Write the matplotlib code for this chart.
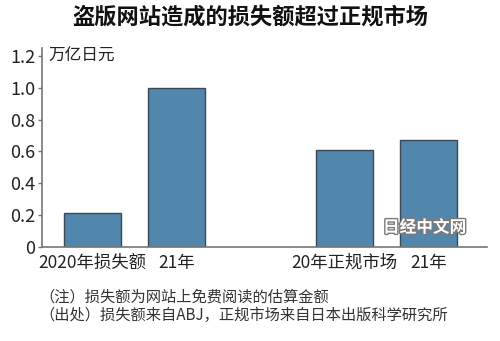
import matplotlib.pyplot as plt
import matplotlib.patheffects as pe

plt.rcParams['font.family'] = ['Noto Sans CJK SC', 'DejaVu Sans']

# 盗版损失额与正规市场规模（万亿日元）
labels = ['2020年损失额', '21年', '20年正规市场', '21年']
positions = [0, 1, 3, 4]
values = [0.21, 1.0, 0.61, 0.67]
yticks = [0, 0.2, 0.4, 0.6, 0.8, 1.0, 1.2]
ytick_labels = ['0', '0.2', '0.4', '0.6', '0.8', '1.0', '1.2']

fig = plt.figure(figsize=(5, 3.41), dpi=100)
ax = fig.add_axes([0.084, 0.276, 0.89, 0.583])

ax.bar(positions, values, width=0.68, color='#5287ad',
       edgecolor='#3b4856', linewidth=1.0)

ax.set_xlim(-0.6, 4.7)
ax.set_ylim(0, 1.25)
ax.set_yticks(yticks)
ax.set_yticklabels(ytick_labels, fontsize=13, color='#222222')
ax.set_xticks(positions)
ax.set_xticklabels(labels, fontsize=12.5, color='#222222')
ax.tick_params(axis='x', length=0, pad=5)
ax.tick_params(axis='y', length=3, width=1, color='#777777', pad=2)

for side in ['top', 'right']:
    ax.spines[side].set_visible(False)
for side in ['left', 'bottom']:
    ax.spines[side].set_color('#777777')
    ax.spines[side].set_linewidth(1.2)

ax.text(0.014, 1.2, '万亿日元', fontsize=12, color='#222222',
        va='center', ha='left', transform=ax.get_yaxis_transform())

fig.text(0.5, 0.95, '盗版网站造成的损失额超过正规市场', fontsize=16,
         fontweight='bold', ha='center', va='center', color='#111111')

# 水印
fig.text(0.849, 0.333, '日经中文网', fontsize=12, fontweight='bold',
         color='white', ha='center', va='center',
         path_effects=[pe.withStroke(linewidth=2, foreground='#7a7a7a')])

fig.text(0.078, 0.128, '（注）损失额为网站上免费阅读的估算金额',
         fontsize=11, color='#333333', ha='left', va='center')
fig.text(0.078, 0.074, '（出处）损失额来自ABJ，正规市场来自日本出版科学研究所',
         fontsize=11, color='#333333', ha='left', va='center')

fig.savefig('out.png', dpi=100)
